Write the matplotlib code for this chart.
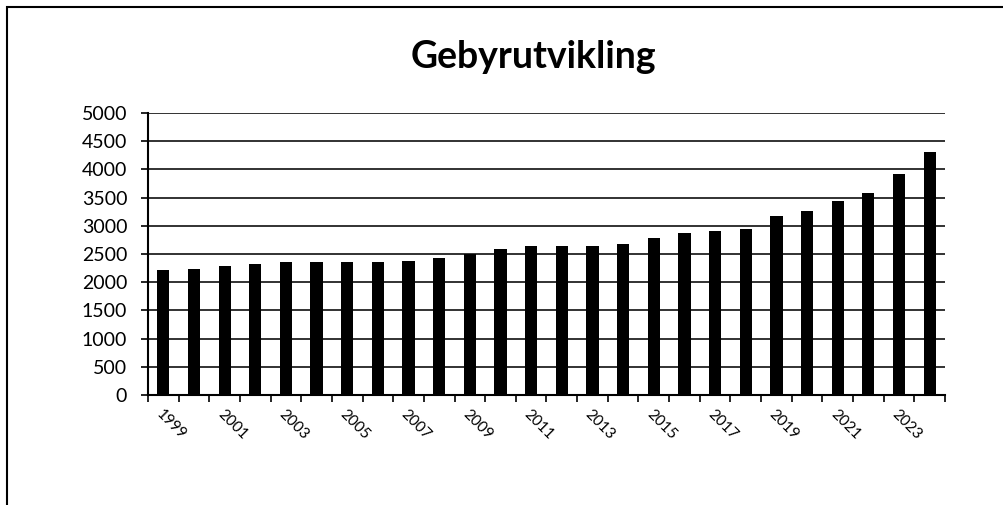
import matplotlib
matplotlib.use("Agg")
import matplotlib.pyplot as plt
from matplotlib.patches import Rectangle

years = list(range(1999, 2025))
values = [2210, 2234, 2281, 2323, 2352, 2352, 2352, 2352, 2382, 2435,
          2500, 2595, 2636, 2636, 2636, 2678, 2779, 2880, 2903, 2939,
          3176, 3265, 3431, 3590, 3916, 4313]
yticks = list(range(0, 5001, 500))
title = "Gebyrutvikling"

plt.rcParams['font.family'] = ['Lato', 'DejaVu Sans']

fig = plt.figure(figsize=(10.04, 5.05), dpi=100)
fig.patches.append(Rectangle((7/1004, -0.1), 1.2, 1 - 7/505 + 0.1,
                             transform=fig.transFigure, fill=False,
                             edgecolor='black', linewidth=1.5))
ax = fig.add_axes([148/1004, 1 - 395/505, (945 - 148)/1004, (395 - 113)/505])

x = list(range(len(years)))
ax.bar(x, values, width=0.4, color='black', zorder=3)
ax.set_xlim(-0.5, len(years) - 0.5)
ax.set_ylim(0, 5000)
ax.set_yticks(yticks)
ax.set_yticklabels([str(v) for v in yticks], fontsize=14)
ax.yaxis.grid(True, color='#222222', linewidth=1.3, zorder=0)
ax.tick_params(axis='y', direction='out', length=5, width=1.2, pad=10)

ax.set_xticks([i - 0.5 for i in range(len(years) + 1)], minor=True)
ax.set_xticks(x[::2])
ax.set_xticklabels([str(years[i]) for i in x[::2]], fontsize=11, rotation=-45,
                   ha='left', va='top', rotation_mode='anchor')
ax.tick_params(axis='x', which='major', length=0, pad=9)
ax.tick_params(axis='x', which='minor', direction='out', length=5, width=1.2)

for s in ['top', 'right']:
    ax.spines[s].set_visible(False)
ax.spines['left'].set_linewidth(1.5)
ax.spines['bottom'].set_linewidth(1.5)

fig.text(533/1004, 1 - 57/505, title, fontsize=27, fontweight='bold',
         ha='center', va='center')

fig.savefig("out.png", dpi=100)
